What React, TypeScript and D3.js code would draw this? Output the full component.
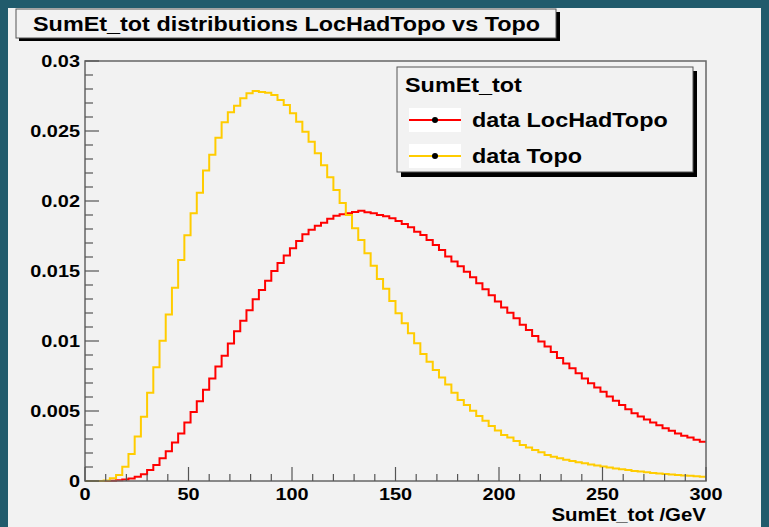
import React from "react";
import * as d3 from "d3";

const binEdges: number[] = d3.range(0, 301, 3);

const locHadTopo: number[] = [
  0, 0, 0, 0, 0.00002, 0.00005, 0.0001, 0.00017, 0.00031, 0.00048,
  0.00079, 0.00114, 0.00162, 0.00212, 0.00275, 0.0034, 0.00417, 0.00492, 0.00569, 0.00652,
  0.00733, 0.00817, 0.00894, 0.00983, 0.01069, 0.01144, 0.01219, 0.01298, 0.01364, 0.01431,
  0.01500, 0.01558, 0.01610, 0.01662, 0.01715, 0.01762, 0.01795, 0.01823, 0.01845, 0.01874,
  0.01895, 0.01905, 0.01912, 0.01922, 0.01930, 0.01920, 0.01912, 0.01900, 0.01891, 0.01876,
  0.01857, 0.01836, 0.01812, 0.01781, 0.01757, 0.01721, 0.01686, 0.0165, 0.01604, 0.01567,
  0.01534, 0.01495, 0.01455, 0.01412, 0.01369, 0.01327, 0.01283, 0.0124, 0.01202, 0.01162,
  0.01116, 0.01079, 0.01036, 0.00996, 0.0096, 0.00922, 0.00878, 0.0084, 0.00805, 0.00769,
  0.00733, 0.00698, 0.00668, 0.00637, 0.00603, 0.00574, 0.00543, 0.00512, 0.00484, 0.0046,
  0.0044, 0.00417, 0.00398, 0.00377, 0.00359, 0.0034, 0.00324, 0.0031, 0.00294, 0.00281,
];

const topo: number[] = [
  0, 0, 0, 0.00004, 0.00019, 0.00043, 0.00102, 0.00193, 0.00317, 0.00459,
  0.00631, 0.00812, 0.01002, 0.0119, 0.01381, 0.01579, 0.01755, 0.01912, 0.02059, 0.02217,
  0.02331, 0.02452, 0.02562, 0.02634, 0.02681, 0.02734, 0.02769, 0.02786, 0.02779, 0.02774,
  0.02757, 0.02721, 0.02686, 0.02626, 0.02566, 0.02495, 0.02424, 0.02341, 0.02255, 0.0217,
  0.02079, 0.01985, 0.019, 0.01805, 0.01721, 0.01626, 0.01538, 0.01443, 0.01374, 0.01286,
  0.01198, 0.01126, 0.01055, 0.00984, 0.00907, 0.00852, 0.00793, 0.0074, 0.0069, 0.00631,
  0.00579, 0.00543, 0.00502, 0.00464, 0.00431, 0.00393, 0.0036, 0.00329, 0.0031, 0.00286,
  0.00257, 0.0024, 0.00221, 0.00205, 0.00186, 0.00174, 0.00162, 0.00152, 0.00143, 0.00134,
  0.00126, 0.00118, 0.0011, 0.00103, 0.00096, 0.0009, 0.00084, 0.00078, 0.00072, 0.00067,
  0.00062, 0.00058, 0.00054, 0.0005, 0.00046, 0.00043, 0.0004, 0.00037, 0.00034, 0.00031,
];

const yTickValues: number[] = [0, 0.005, 0.01, 0.015, 0.02, 0.025, 0.03];
const yTickLabels: string[] = ["0", "0.005", "0.01", "0.015", "0.02", "0.025", "0.03"];
const xTickValues: number[] = [0, 50, 100, 150, 200, 250, 300];

const titleText = "SumEt_tot distributions LocHadTopo vs Topo";
const xAxisTitle = "SumEt_tot /GeV";
const legendHeader = "SumEt_tot";
const seriesNames: string[] = ["data LocHadTopo", "data Topo"];
const seriesColors: string[] = ["#ff0000", "#ffcc00"];

const W = 769;
const H = 527;
const M = { left: 85, top: 61, right: 706, bottom: 481 };
const FONT = "'Liberation Sans', Arial, Helvetica, sans-serif";
const SX = 1.17;

type TProps = {
  x: number;
  y: number;
  size: number;
  anchor?: "start" | "middle" | "end";
  dy?: string;
  children: React.ReactNode;
};

function T({ x, y, size, anchor = "start", dy, children }: TProps) {
  return (
    <text
      transform={`translate(${x},${y}) scale(${SX},1)`}
      x={0}
      y={0}
      dy={dy}
      textAnchor={anchor}
      fontSize={size}
      fontWeight="bold"
      fill="#000"
    >
      {children}
    </text>
  );
}

export default function App() {
  const x = d3.scaleLinear().domain([0, 300]).range([M.left, M.right]);
  const y = d3.scaleLinear().domain([0, 0.03]).range([M.bottom, M.top]);

  const stepPath = (vals: number[]) => {
    const pts: [number, number][] = vals.map((v, i) => [binEdges[i], v]);
    pts.push([binEdges[vals.length], vals[vals.length - 1]]);
    return d3
      .line<[number, number]>()
      .x((d) => x(d[0]))
      .y((d) => y(d[1]))
      .curve(d3.curveStepAfter)(pts) as string;
  };

  const yMinor = d3.range(0, 0.0301, 0.001);
  const xMinor = d3.range(0, 301, 10);

  return (
    <svg
      width={W}
      height={H}
      style={{ position: "absolute", left: 0, top: 0 }}
      fontFamily={FONT}
    >
      <rect x={0} y={0} width={W} height={H} fill="#215b6c" />
      <rect x={8} y={8} width={753} height={H - 8} fill="#f2f2f2" />

      {/* title box */}
      <rect x={19} y={12} width={541} height={29} fill="#000" />
      <rect x={16} y={9} width={540} height={29} fill="#f2f2f2" stroke="#555" strokeWidth={1} />
      <T x={33} y={31} size={20}>
        {titleText}
      </T>

      {/* histograms */}
      <path d={stepPath(locHadTopo)} fill="none" stroke={seriesColors[0]} strokeWidth={2} />
      <path d={stepPath(topo)} fill="none" stroke={seriesColors[1]} strokeWidth={2} />

      {/* frame */}
      <rect
        x={M.left}
        y={M.top}
        width={M.right - M.left}
        height={M.bottom - M.top}
        fill="none"
        stroke="#666"
        strokeWidth={1.5}
      />

      {/* y ticks */}
      {yMinor.map((v, i) => (
        <line
          key={"ym" + i}
          x1={M.left}
          x2={M.left + (i % 5 === 0 ? 14 : 8)}
          y1={y(v)}
          y2={y(v)}
          stroke="#555"
          strokeWidth={1.2}
        />
      ))}
      {yTickValues.map((v, i) => (
        <T key={"yl" + i} x={M.left - 5} y={y(v)} dy="0.36em" anchor="end" size={17}>
          {yTickLabels[i]}
        </T>
      ))}

      {/* x ticks */}
      {xMinor.map((v, i) => (
        <line
          key={"xm" + i}
          x1={x(v)}
          x2={x(v)}
          y1={M.bottom}
          y2={M.bottom - (i % 5 === 0 ? 14 : 7)}
          stroke="#555"
          strokeWidth={1.2}
        />
      ))}
      {xTickValues.map((v, i) => (
        <T key={"xl" + i} x={x(v)} y={500} anchor="middle" size={17}>
          {String(v)}
        </T>
      ))}
      <T x={M.right} y={521} anchor="end" size={17.5}>
        {xAxisTitle}
      </T>

      {/* legend */}
      <rect x={401} y={71} width={296} height={106} fill="#000" />
      <rect x={397} y={67} width={296} height={105} fill="#f2f2f2" stroke="#555" strokeWidth={1} />
      <T x={405} y={92} size={20}>
        {legendHeader}
      </T>
      {seriesNames.map((name, i) => {
        const cy = 120 + i * 36;
        return (
          <g key={"lg" + i}>
            <rect x={409} y={cy - 12} width={52} height={24} fill="#ffffff" />
            <line x1={409} x2={461} y1={cy} y2={cy} stroke={seriesColors[i]} strokeWidth={2} />
            <circle cx={435} cy={cy} r={3} fill="#000" />
            <T x={472} y={cy} dy="0.36em" size={20}>
              {name}
            </T>
          </g>
        );
      })}
    </svg>
  );
}
